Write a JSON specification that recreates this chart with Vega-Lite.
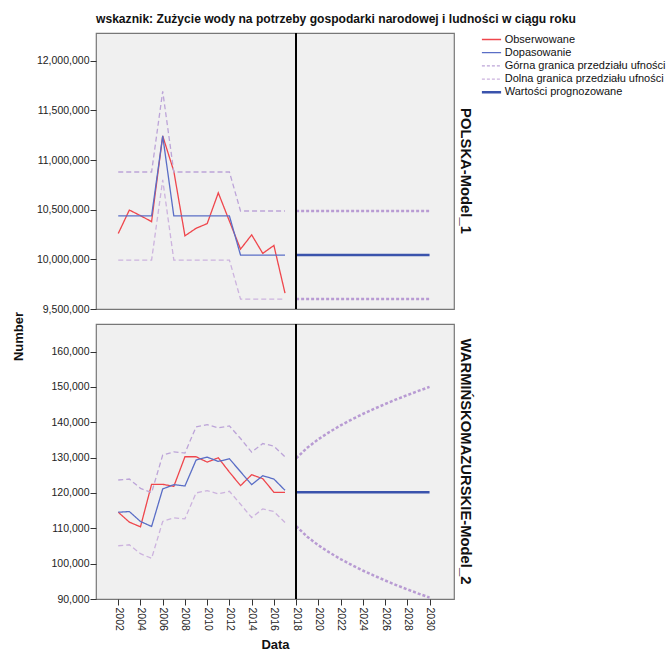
{
  "$schema": "https://vega.github.io/schema/vega-lite/v6.json",
  "padding": {"left": 11, "top": 12, "right": 5, "bottom": 5},
  "spacing": 15,
  "bounds": "flush",
  "title": {"text": "wskaznik: Zużycie wody na potrzeby gospodarki narodowej i ludności w ciągu roku", "anchor": "start", "frame": "group", "font": "Liberation Sans", "fontSize": 12.1, "fontWeight": "bold", "color": "#111", "offset": 7},
  "config": {
    "font": "Liberation Sans",
    "view": {"fill": "#f0f0f0", "stroke": "#777", "strokeWidth": 1.2},
    "axis": {"labelFont": "Liberation Sans", "labelFontSize": 10.5, "labelColor": "#222", "tickColor": "#333", "tickSize": 6, "labelPadding": 1, "labelOverlap": false, "labelFlush": false, "domain": false, "grid": false, "titleFont": "Liberation Sans", "titleFontSize": 13, "titleFontWeight": "bold", "titleColor": "#111"},
    "title": {"font": "Liberation Sans"}
  },
  "datasets": {
    "pl": [
      {"year":2002,"series":"Obserwowane","value":10260000},{"year":2003,"series":"Obserwowane","value":10497000},{"year":2004,"series":"Obserwowane","value":10440000},{"year":2005,"series":"Obserwowane","value":10380000},{"year":2006,"series":"Obserwowane","value":11243000},{"year":2007,"series":"Obserwowane","value":10887000},{"year":2008,"series":"Obserwowane","value":10237000},{"year":2009,"series":"Obserwowane","value":10313000},{"year":2010,"series":"Obserwowane","value":10360000},{"year":2011,"series":"Obserwowane","value":10670000},{"year":2012,"series":"Obserwowane","value":10385000},{"year":2013,"series":"Obserwowane","value":10103000},{"year":2014,"series":"Obserwowane","value":10247000},{"year":2015,"series":"Obserwowane","value":10060000},{"year":2016,"series":"Obserwowane","value":10140000},{"year":2017,"series":"Obserwowane","value":9660000},
      {"year":2002,"series":"Dopasowanie","value":10437000},{"year":2003,"series":"Dopasowanie","value":10437000},{"year":2004,"series":"Dopasowanie","value":10437000},{"year":2005,"series":"Dopasowanie","value":10437000},{"year":2006,"series":"Dopasowanie","value":11243000},{"year":2007,"series":"Dopasowanie","value":10437000},{"year":2008,"series":"Dopasowanie","value":10437000},{"year":2009,"series":"Dopasowanie","value":10437000},{"year":2010,"series":"Dopasowanie","value":10437000},{"year":2011,"series":"Dopasowanie","value":10437000},{"year":2012,"series":"Dopasowanie","value":10437000},{"year":2013,"series":"Dopasowanie","value":10043000},{"year":2014,"series":"Dopasowanie","value":10043000},{"year":2015,"series":"Dopasowanie","value":10043000},{"year":2016,"series":"Dopasowanie","value":10043000},{"year":2017,"series":"Dopasowanie","value":10043000},
      {"year":2002,"series":"Górna granica przedziału ufności","value":10880000},{"year":2003,"series":"Górna granica przedziału ufności","value":10880000},{"year":2004,"series":"Górna granica przedziału ufności","value":10880000},{"year":2005,"series":"Górna granica przedziału ufności","value":10880000},{"year":2006,"series":"Górna granica przedziału ufności","value":11693000},{"year":2007,"series":"Górna granica przedziału ufności","value":10880000},{"year":2008,"series":"Górna granica przedziału ufności","value":10880000},{"year":2009,"series":"Górna granica przedziału ufności","value":10880000},{"year":2010,"series":"Górna granica przedziału ufności","value":10880000},{"year":2011,"series":"Górna granica przedziału ufności","value":10880000},{"year":2012,"series":"Górna granica przedziału ufności","value":10880000},{"year":2013,"series":"Górna granica przedziału ufności","value":10487000},{"year":2014,"series":"Górna granica przedziału ufności","value":10487000},{"year":2015,"series":"Górna granica przedziału ufności","value":10487000},{"year":2016,"series":"Górna granica przedziału ufności","value":10487000},{"year":2017,"series":"Górna granica przedziału ufności","value":10487000},
      {"year":2002,"series":"Dolna granica przedziału ufności","value":9993000},{"year":2003,"series":"Dolna granica przedziału ufności","value":9993000},{"year":2004,"series":"Dolna granica przedziału ufności","value":9993000},{"year":2005,"series":"Dolna granica przedziału ufności","value":9993000},{"year":2006,"series":"Dolna granica przedziału ufności","value":10800000},{"year":2007,"series":"Dolna granica przedziału ufności","value":9993000},{"year":2008,"series":"Dolna granica przedziału ufności","value":9993000},{"year":2009,"series":"Dolna granica przedziału ufności","value":9993000},{"year":2010,"series":"Dolna granica przedziału ufności","value":9993000},{"year":2011,"series":"Dolna granica przedziału ufności","value":9993000},{"year":2012,"series":"Dolna granica przedziału ufności","value":9993000},{"year":2013,"series":"Dolna granica przedziału ufności","value":9600000},{"year":2014,"series":"Dolna granica przedziału ufności","value":9600000},{"year":2015,"series":"Dolna granica przedziału ufności","value":9600000},{"year":2016,"series":"Dolna granica przedziału ufności","value":9600000},{"year":2017,"series":"Dolna granica przedziału ufności","value":9600000},
      {"year":2018,"series":"Wartości prognozowane","value":10043000},{"year":2019,"series":"Wartości prognozowane","value":10043000},{"year":2020,"series":"Wartości prognozowane","value":10043000},{"year":2021,"series":"Wartości prognozowane","value":10043000},{"year":2022,"series":"Wartości prognozowane","value":10043000},{"year":2023,"series":"Wartości prognozowane","value":10043000},{"year":2024,"series":"Wartości prognozowane","value":10043000},{"year":2025,"series":"Wartości prognozowane","value":10043000},{"year":2026,"series":"Wartości prognozowane","value":10043000},{"year":2027,"series":"Wartości prognozowane","value":10043000},{"year":2028,"series":"Wartości prognozowane","value":10043000},{"year":2029,"series":"Wartości prognozowane","value":10043000},{"year":2030,"series":"Wartości prognozowane","value":10043000},
      {"year":2018,"series":"Górna granica przedziału ufności","value":10487000},{"year":2019,"series":"Górna granica przedziału ufności","value":10487000},{"year":2020,"series":"Górna granica przedziału ufności","value":10487000},{"year":2021,"series":"Górna granica przedziału ufności","value":10487000},{"year":2022,"series":"Górna granica przedziału ufności","value":10487000},{"year":2023,"series":"Górna granica przedziału ufności","value":10487000},{"year":2024,"series":"Górna granica przedziału ufności","value":10487000},{"year":2025,"series":"Górna granica przedziału ufności","value":10487000},{"year":2026,"series":"Górna granica przedziału ufności","value":10487000},{"year":2027,"series":"Górna granica przedziału ufności","value":10487000},{"year":2028,"series":"Górna granica przedziału ufności","value":10487000},{"year":2029,"series":"Górna granica przedziału ufności","value":10487000},{"year":2030,"series":"Górna granica przedziału ufności","value":10487000},
      {"year":2018,"series":"Dolna granica przedziału ufności","value":9600000},{"year":2019,"series":"Dolna granica przedziału ufności","value":9600000},{"year":2020,"series":"Dolna granica przedziału ufności","value":9600000},{"year":2021,"series":"Dolna granica przedziału ufności","value":9600000},{"year":2022,"series":"Dolna granica przedziału ufności","value":9600000},{"year":2023,"series":"Dolna granica przedziału ufności","value":9600000},{"year":2024,"series":"Dolna granica przedziału ufności","value":9600000},{"year":2025,"series":"Dolna granica przedziału ufności","value":9600000},{"year":2026,"series":"Dolna granica przedziału ufności","value":9600000},{"year":2027,"series":"Dolna granica przedziału ufności","value":9600000},{"year":2028,"series":"Dolna granica przedziału ufności","value":9600000},{"year":2029,"series":"Dolna granica przedziału ufności","value":9600000},{"year":2030,"series":"Dolna granica przedziału ufności","value":9600000}
    ],
    "wm": [
      {"year":2002,"series":"Obserwowane","value":114550},{"year":2003,"series":"Obserwowane","value":111740},{"year":2004,"series":"Obserwowane","value":110420},{"year":2005,"series":"Obserwowane","value":122440},{"year":2006,"series":"Obserwowane","value":122440},{"year":2007,"series":"Obserwowane","value":121880},{"year":2008,"series":"Obserwowane","value":130240},{"year":2009,"series":"Obserwowane","value":130240},{"year":2010,"series":"Obserwowane","value":128730},{"year":2011,"series":"Obserwowane","value":129950},{"year":2012,"series":"Obserwowane","value":125900},{"year":2013,"series":"Obserwowane","value":122070},{"year":2014,"series":"Obserwowane","value":125160},{"year":2015,"series":"Obserwowane","value":124040},{"year":2016,"series":"Obserwowane","value":120190},{"year":2017,"series":"Obserwowane","value":120190},
      {"year":2002,"series":"Dopasowanie","value":114550},{"year":2003,"series":"Dopasowanie","value":114740},{"year":2004,"series":"Dopasowanie","value":111930},{"year":2005,"series":"Dopasowanie","value":110520},{"year":2006,"series":"Dopasowanie","value":121130},{"year":2007,"series":"Dopasowanie","value":122350},{"year":2008,"series":"Dopasowanie","value":121970},{"year":2009,"series":"Dopasowanie","value":129300},{"year":2010,"series":"Dopasowanie","value":130140},{"year":2011,"series":"Dopasowanie","value":128920},{"year":2012,"series":"Dopasowanie","value":129670},{"year":2013,"series":"Dopasowanie","value":126010},{"year":2014,"series":"Dopasowanie","value":122350},{"year":2015,"series":"Dopasowanie","value":124880},{"year":2016,"series":"Dopasowanie","value":123940},{"year":2017,"series":"Dopasowanie","value":120750},
      {"year":2002,"series":"Górna granica przedziału ufności","value":123660},{"year":2003,"series":"Górna granica przedziału ufności","value":123940},{"year":2004,"series":"Górna granica przedziału ufności","value":121310},{"year":2005,"series":"Górna granica przedziału ufności","value":120090},{"year":2006,"series":"Górna granica przedziału ufności","value":130700},{"year":2007,"series":"Górna granica przedziału ufności","value":131640},{"year":2008,"series":"Górna granica przedziału ufności","value":131270},{"year":2009,"series":"Górna granica przedziału ufności","value":138690},{"year":2010,"series":"Górna granica przedziału ufności","value":139340},{"year":2011,"series":"Górna granica przedziału ufności","value":138400},{"year":2012,"series":"Górna granica przedziału ufności","value":138970},{"year":2013,"series":"Górna granica przedziału ufności","value":135400},{"year":2014,"series":"Górna granica przedziału ufności","value":131550},{"year":2015,"series":"Górna granica przedziału ufności","value":133990},{"year":2016,"series":"Górna granica przedziału ufności","value":133240},{"year":2017,"series":"Górna granica przedziału ufności","value":130230},
      {"year":2002,"series":"Dolna granica przedziału ufności","value":105070},{"year":2003,"series":"Dolna granica przedziału ufności","value":105350},{"year":2004,"series":"Dolna granica przedziału ufności","value":102820},{"year":2005,"series":"Dolna granica przedziału ufności","value":101500},{"year":2006,"series":"Dolna granica przedziału ufności","value":111930},{"year":2007,"series":"Dolna granica przedziału ufności","value":112960},{"year":2008,"series":"Dolna granica przedziału ufności","value":112680},{"year":2009,"series":"Dolna granica przedziału ufności","value":120000},{"year":2010,"series":"Dolna granica przedziału ufności","value":120660},{"year":2011,"series":"Dolna granica przedziału ufności","value":119720},{"year":2012,"series":"Dolna granica przedziału ufności","value":120470},{"year":2013,"series":"Dolna granica przedziału ufności","value":116810},{"year":2014,"series":"Dolna granica przedziału ufności","value":113050},{"year":2015,"series":"Dolna granica przedziału ufności","value":115490},{"year":2016,"series":"Dolna granica przedziału ufności","value":114740},{"year":2017,"series":"Dolna granica przedziału ufności","value":111640},
      {"year":2018,"series":"Wartości prognozowane","value":120200},{"year":2019,"series":"Wartości prognozowane","value":120200},{"year":2020,"series":"Wartości prognozowane","value":120200},{"year":2021,"series":"Wartości prognozowane","value":120200},{"year":2022,"series":"Wartości prognozowane","value":120200},{"year":2023,"series":"Wartości prognozowane","value":120200},{"year":2024,"series":"Wartości prognozowane","value":120200},{"year":2025,"series":"Wartości prognozowane","value":120200},{"year":2026,"series":"Wartości prognozowane","value":120200},{"year":2027,"series":"Wartości prognozowane","value":120200},{"year":2028,"series":"Wartości prognozowane","value":120200},{"year":2029,"series":"Wartości prognozowane","value":120200},{"year":2030,"series":"Wartości prognozowane","value":120200},
      {"year":2018,"series":"Górna granica przedziału ufności","value":129800},{"year":2019,"series":"Górna granica przedziału ufności","value":132790},{"year":2020,"series":"Górna granica przedziału ufności","value":135200},{"year":2021,"series":"Górna granica przedziału ufności","value":137260},{"year":2022,"series":"Górna granica przedziału ufności","value":139110},{"year":2023,"series":"Górna granica przedziału ufności","value":140790},{"year":2024,"series":"Górna granica przedziału ufności","value":142340},{"year":2025,"series":"Górna granica przedziału ufności","value":143790},{"year":2026,"series":"Górna granica przedziału ufności","value":145150},{"year":2027,"series":"Górna granica przedziału ufności","value":146450},{"year":2028,"series":"Górna granica przedziału ufności","value":147680},{"year":2029,"series":"Górna granica przedziału ufności","value":148860},{"year":2030,"series":"Górna granica przedziału ufności","value":150000},
      {"year":2018,"series":"Dolna granica przedziału ufności","value":110600},{"year":2019,"series":"Dolna granica przedziału ufności","value":107610},{"year":2020,"series":"Dolna granica przedziału ufności","value":105200},{"year":2021,"series":"Dolna granica przedziału ufności","value":103140},{"year":2022,"series":"Dolna granica przedziału ufności","value":101290},{"year":2023,"series":"Dolna granica przedziału ufności","value":99610},{"year":2024,"series":"Dolna granica przedziału ufności","value":98060},{"year":2025,"series":"Dolna granica przedziału ufności","value":96610},{"year":2026,"series":"Dolna granica przedziału ufności","value":95250},{"year":2027,"series":"Dolna granica przedziału ufności","value":93950},{"year":2028,"series":"Dolna granica przedziału ufności","value":92720},{"year":2029,"series":"Dolna granica przedziału ufności","value":91540},{"year":2030,"series":"Dolna granica przedziału ufności","value":90400}
    ]
  },
  "vconcat": [
    {
      "width": 358,
      "height": 276,
      "data": {"name": "pl"},
      "title": {"text": "POLSKA-Model_1", "orient": "right", "anchor": "middle", "fontSize": 14.8, "fontWeight": "bold", "color": "#111", "offset": 4},
      "layer": [
        {
          "transform": [{"filter": "datum.year <= 2017"}],
          "mark": {"type": "line", "strokeWidth": 1.3},
          "encoding": {
            "x": {"field": "year", "type": "quantitative", "scale": {"domain": [2000, 2032.2], "nice": false, "zero": false}, "axis": null},
            "y": {"field": "value", "type": "quantitative", "scale": {"domain": [9500000, 12280000], "nice": false, "zero": false}, "axis": {"values": [9500000, 10000000, 10500000, 11000000, 11500000, 12000000], "tickCount": 20, "format": ",d", "title": "Number", "titleY": 303, "titlePadding": 11}},
            "color": {"field": "series", "type": "nominal", "scale": {"domain": ["Obserwowane", "Dopasowanie", "Górna granica przedziału ufności", "Dolna granica przedziału ufności", "Wartości prognozowane"], "range": ["#ef464c", "#5a6ec6", "#bca4d8", "#ccb3de", "#3a53ac"]}, "sort": null,
              "legend": {"title": null, "orient": "none", "legendX": 390, "legendY": 1, "padding": 0, "symbolType": "M-1.6,0H1.6", "symbolSize": 144, "symbolStrokeWidth": 1.3, "labelFont": "Liberation Sans", "labelFontSize": 11, "labelColor": "#111", "labelOffset": 7.7, "rowPadding": 1.2, "labelLimit": 400,
                "encode": {"symbols": {"update": {"strokeDash": {"signal": "indexof(['Górna granica przedziału ufności','Dolna granica przedziału ufności'], datum.value) >= 0 ? [3,2] : [1,0]"}, "strokeWidth": {"signal": "datum.value == 'Wartości prognozowane' ? 2.5 : 1.3"}}}}}},
            "strokeDash": {"field": "series", "type": "nominal", "scale": {"domain": ["Obserwowane", "Dopasowanie", "Górna granica przedziału ufności", "Dolna granica przedziału ufności"], "range": [[1, 0], [1, 0], [5, 3], [5, 3]]}, "legend": null}
          }
        },
        {
          "transform": [{"filter": "datum.year >= 2018 && datum.series != 'Wartości prognozowane'"}],
          "mark": {"type": "line", "strokeWidth": 2.5, "strokeDash": [3, 2], "color": "#b89bd3"},
          "encoding": {
            "x": {"field": "year", "type": "quantitative", "axis": null},
            "y": {"field": "value", "type": "quantitative"},
            "detail": {"field": "series", "type": "nominal"}
          }
        },
        {
          "transform": [{"filter": "datum.series == 'Wartości prognozowane'"}],
          "mark": {"type": "line", "strokeWidth": 2.5},
          "encoding": {
            "x": {"field": "year", "type": "quantitative", "axis": null},
            "y": {"field": "value", "type": "quantitative"},
            "color": {"field": "series", "type": "nominal"}
          }
        },
        {
          "mark": {"type": "rule", "color": "#000", "strokeWidth": 1},
          "encoding": {"x": {"datum": 2018, "type": "quantitative", "axis": null}}
        }
      ]
    },
    {
      "width": 358,
      "height": 275,
      "data": {"name": "wm"},
      "title": {"text": "WARMIŃSKOMAZURSKIE-Model_2", "orient": "right", "anchor": "middle", "fontSize": 14.8, "fontWeight": "bold", "color": "#111", "offset": 4},
      "layer": [
        {
          "transform": [{"filter": "datum.year <= 2017"}],
          "mark": {"type": "line", "strokeWidth": 1.3},
          "encoding": {
            "x": {"field": "year", "type": "quantitative", "scale": {"domain": [2000, 2032.2], "nice": false, "zero": false}, "axis": {"values": [2002, 2004, 2006, 2008, 2010, 2012, 2014, 2016, 2018, 2020, 2022, 2024, 2026, 2028, 2030], "tickCount": 40, "format": "d", "labelAngle": 90, "title": "Data", "labelPadding": 2, "titlePadding": 8}},
            "y": {"field": "value", "type": "quantitative", "scale": {"domain": [90000, 167800], "nice": false, "zero": false}, "axis": {"values": [90000, 100000, 110000, 120000, 130000, 140000, 150000, 160000], "tickCount": 20, "format": ",d", "title": null}},
            "color": {"field": "series", "type": "nominal"},
            "strokeDash": {"field": "series", "type": "nominal", "legend": null}
          }
        },
        {
          "transform": [{"filter": "datum.year >= 2018 && datum.series != 'Wartości prognozowane'"}],
          "mark": {"type": "line", "strokeWidth": 2.5, "strokeDash": [3, 2], "color": "#b89bd3"},
          "encoding": {
            "x": {"field": "year", "type": "quantitative"},
            "y": {"field": "value", "type": "quantitative"},
            "detail": {"field": "series", "type": "nominal"}
          }
        },
        {
          "transform": [{"filter": "datum.series == 'Wartości prognozowane'"}],
          "mark": {"type": "line", "strokeWidth": 2.5},
          "encoding": {
            "x": {"field": "year", "type": "quantitative"},
            "y": {"field": "value", "type": "quantitative"},
            "color": {"field": "series", "type": "nominal"}
          }
        },
        {
          "mark": {"type": "rule", "color": "#000", "strokeWidth": 1},
          "encoding": {"x": {"datum": 2018, "type": "quantitative"}}
        }
      ]
    }
  ]
}
